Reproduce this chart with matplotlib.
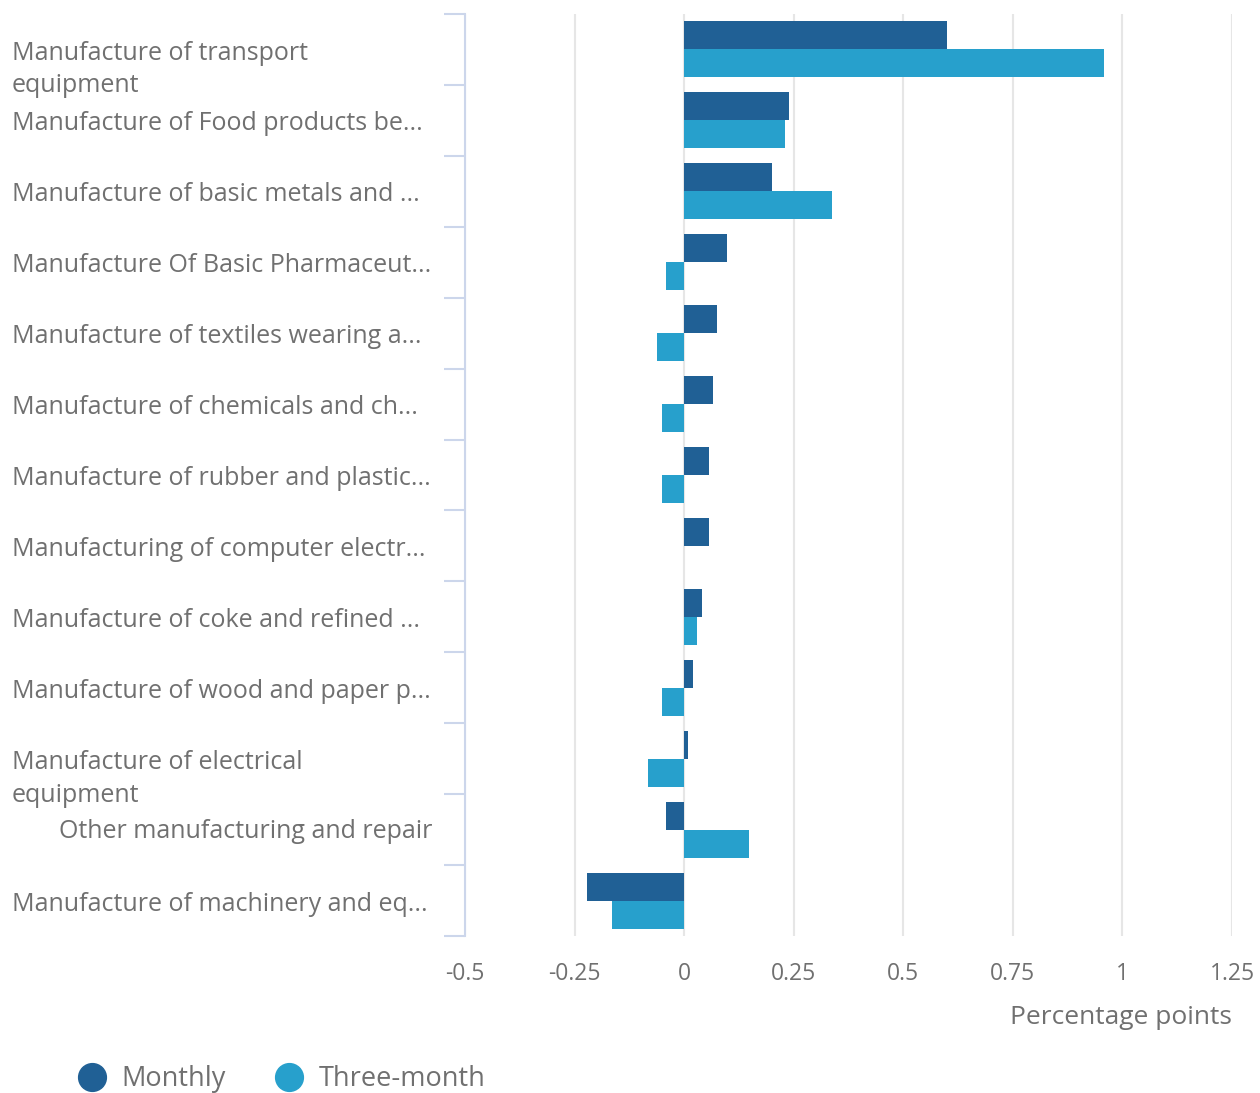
import numpy as np
import matplotlib
matplotlib.use('Agg')
import matplotlib.pyplot as plt
import matplotlib.transforms as mtransforms
from matplotlib.lines import Line2D

plt.rcParams['font.family'] = ['Open Sans', 'DejaVu Sans']

# Data
categories = [
    'Manufacture of transport\nequipment',
    'Manufacture of Food products be...',
    'Manufacture of basic metals and ...',
    'Manufacture Of Basic Pharmaceut...',
    'Manufacture of textiles wearing a...',
    'Manufacture of chemicals and ch...',
    'Manufacture of rubber and plastic...',
    'Manufacturing of computer electr...',
    'Manufacture of coke and refined ...',
    'Manufacture of wood and paper p...',
    'Manufacture of electrical\nequipment',
    'Other manufacturing and repair',
    'Manufacture of machinery and eq...',
]
monthly = [0.60, 0.24, 0.20, 0.097, 0.076, 0.066, 0.057, 0.057, 0.041, 0.02, 0.009, -0.041, -0.221]
three_month = [0.957, 0.23, 0.338, -0.041, -0.062, -0.05, -0.05, 0.0, 0.03, -0.05, -0.082, 0.148, -0.164]
series_names = ['Monthly', 'Three-month']
x_ticks = [-0.5, -0.25, 0, 0.25, 0.5, 0.75, 1, 1.25]
x_tick_labels = ['-0.5', '-0.25', '0', '0.25', '0.5', '0.75', '1', '1.25']

c_monthly = '#206095'
c_three = '#27a0cc'
text_col = '#707070'
axis_col = '#ccd6eb'
grid_col = '#e6e6e6'

W, H = 1260, 1093
fig = plt.figure(figsize=(W / 100, H / 100), dpi=100)
left, right, top, bottom = 465, 1232, 14, 936
ax = fig.add_axes([left / W, 1 - bottom / H, (right - left) / W, (bottom - top) / H])

y = np.arange(len(categories))
bh = 0.395
ax.barh(y - bh / 2, monthly, height=bh, color=c_monthly, zorder=3)
ax.barh(y + bh / 2, three_month, height=bh, color=c_three, zorder=3)

ax.set_xlim(-0.5, 1.25)
ax.set_ylim(len(categories) - 0.5, -0.5)

# gridlines
ax.set_xticks(x_ticks)
ax.set_xticklabels(x_tick_labels)
ax.xaxis.grid(True, color=grid_col, linewidth=1.5, zorder=0)
ax.tick_params(axis='x', length=0, pad=19, labelsize=16.5, labelcolor=text_col)

# y axis: boundary ticks only
ax.set_yticks([])
ax.set_yticks(np.arange(-0.5, len(categories)), minor=True)
ax.tick_params(axis='y', which='minor', length=15, width=1.5, color=axis_col)
ax.tick_params(axis='y', which='major', length=0)

for side in ['top', 'right', 'bottom']:
    ax.spines[side].set_visible(False)
ax.spines['left'].set_color(axis_col)
ax.spines['left'].set_linewidth(1.5)

# category labels
trans = mtransforms.blended_transform_factory(ax.transAxes, ax.transData)
x_lab = (12 - left) / (right - left)
x_lab_right = (432 - left) / (right - left)
for i, lab in enumerate(categories):
    if lab.startswith('Other'):
        ax.annotate(lab, xy=(x_lab_right, i), xycoords=trans, xytext=(0, -1),
                    textcoords='offset points', ha='right', va='center',
                    fontsize=18, color=text_col)
    elif '\n' in lab:
        ax.annotate(lab, xy=(x_lab, i), xycoords=trans, xytext=(0, 6),
                    textcoords='offset points', ha='left', va='top',
                    fontsize=18, color=text_col, linespacing=1.38)
    else:
        ax.annotate(lab, xy=(x_lab, i), xycoords=trans, xytext=(0, -2.5),
                    textcoords='offset points', ha='left', va='center',
                    fontsize=18, color=text_col)

fig.text(right / W, 1 - 1018 / H, 'Percentage points', ha='right', va='center',
         fontsize=19, color=text_col)

handles = [Line2D([], [], marker='o', linestyle='', markersize=20, color=c)
           for c in [c_monthly, c_three]]
fig.legend(handles, series_names, loc='center left', bbox_to_anchor=(51 / W, 1 - 1079 / H),
           ncol=2, frameon=False, fontsize=19.5, labelcolor=text_col,
           handletextpad=0.5, columnspacing=1.75, handlelength=1.2)

fig.savefig('out.png', dpi=100)
